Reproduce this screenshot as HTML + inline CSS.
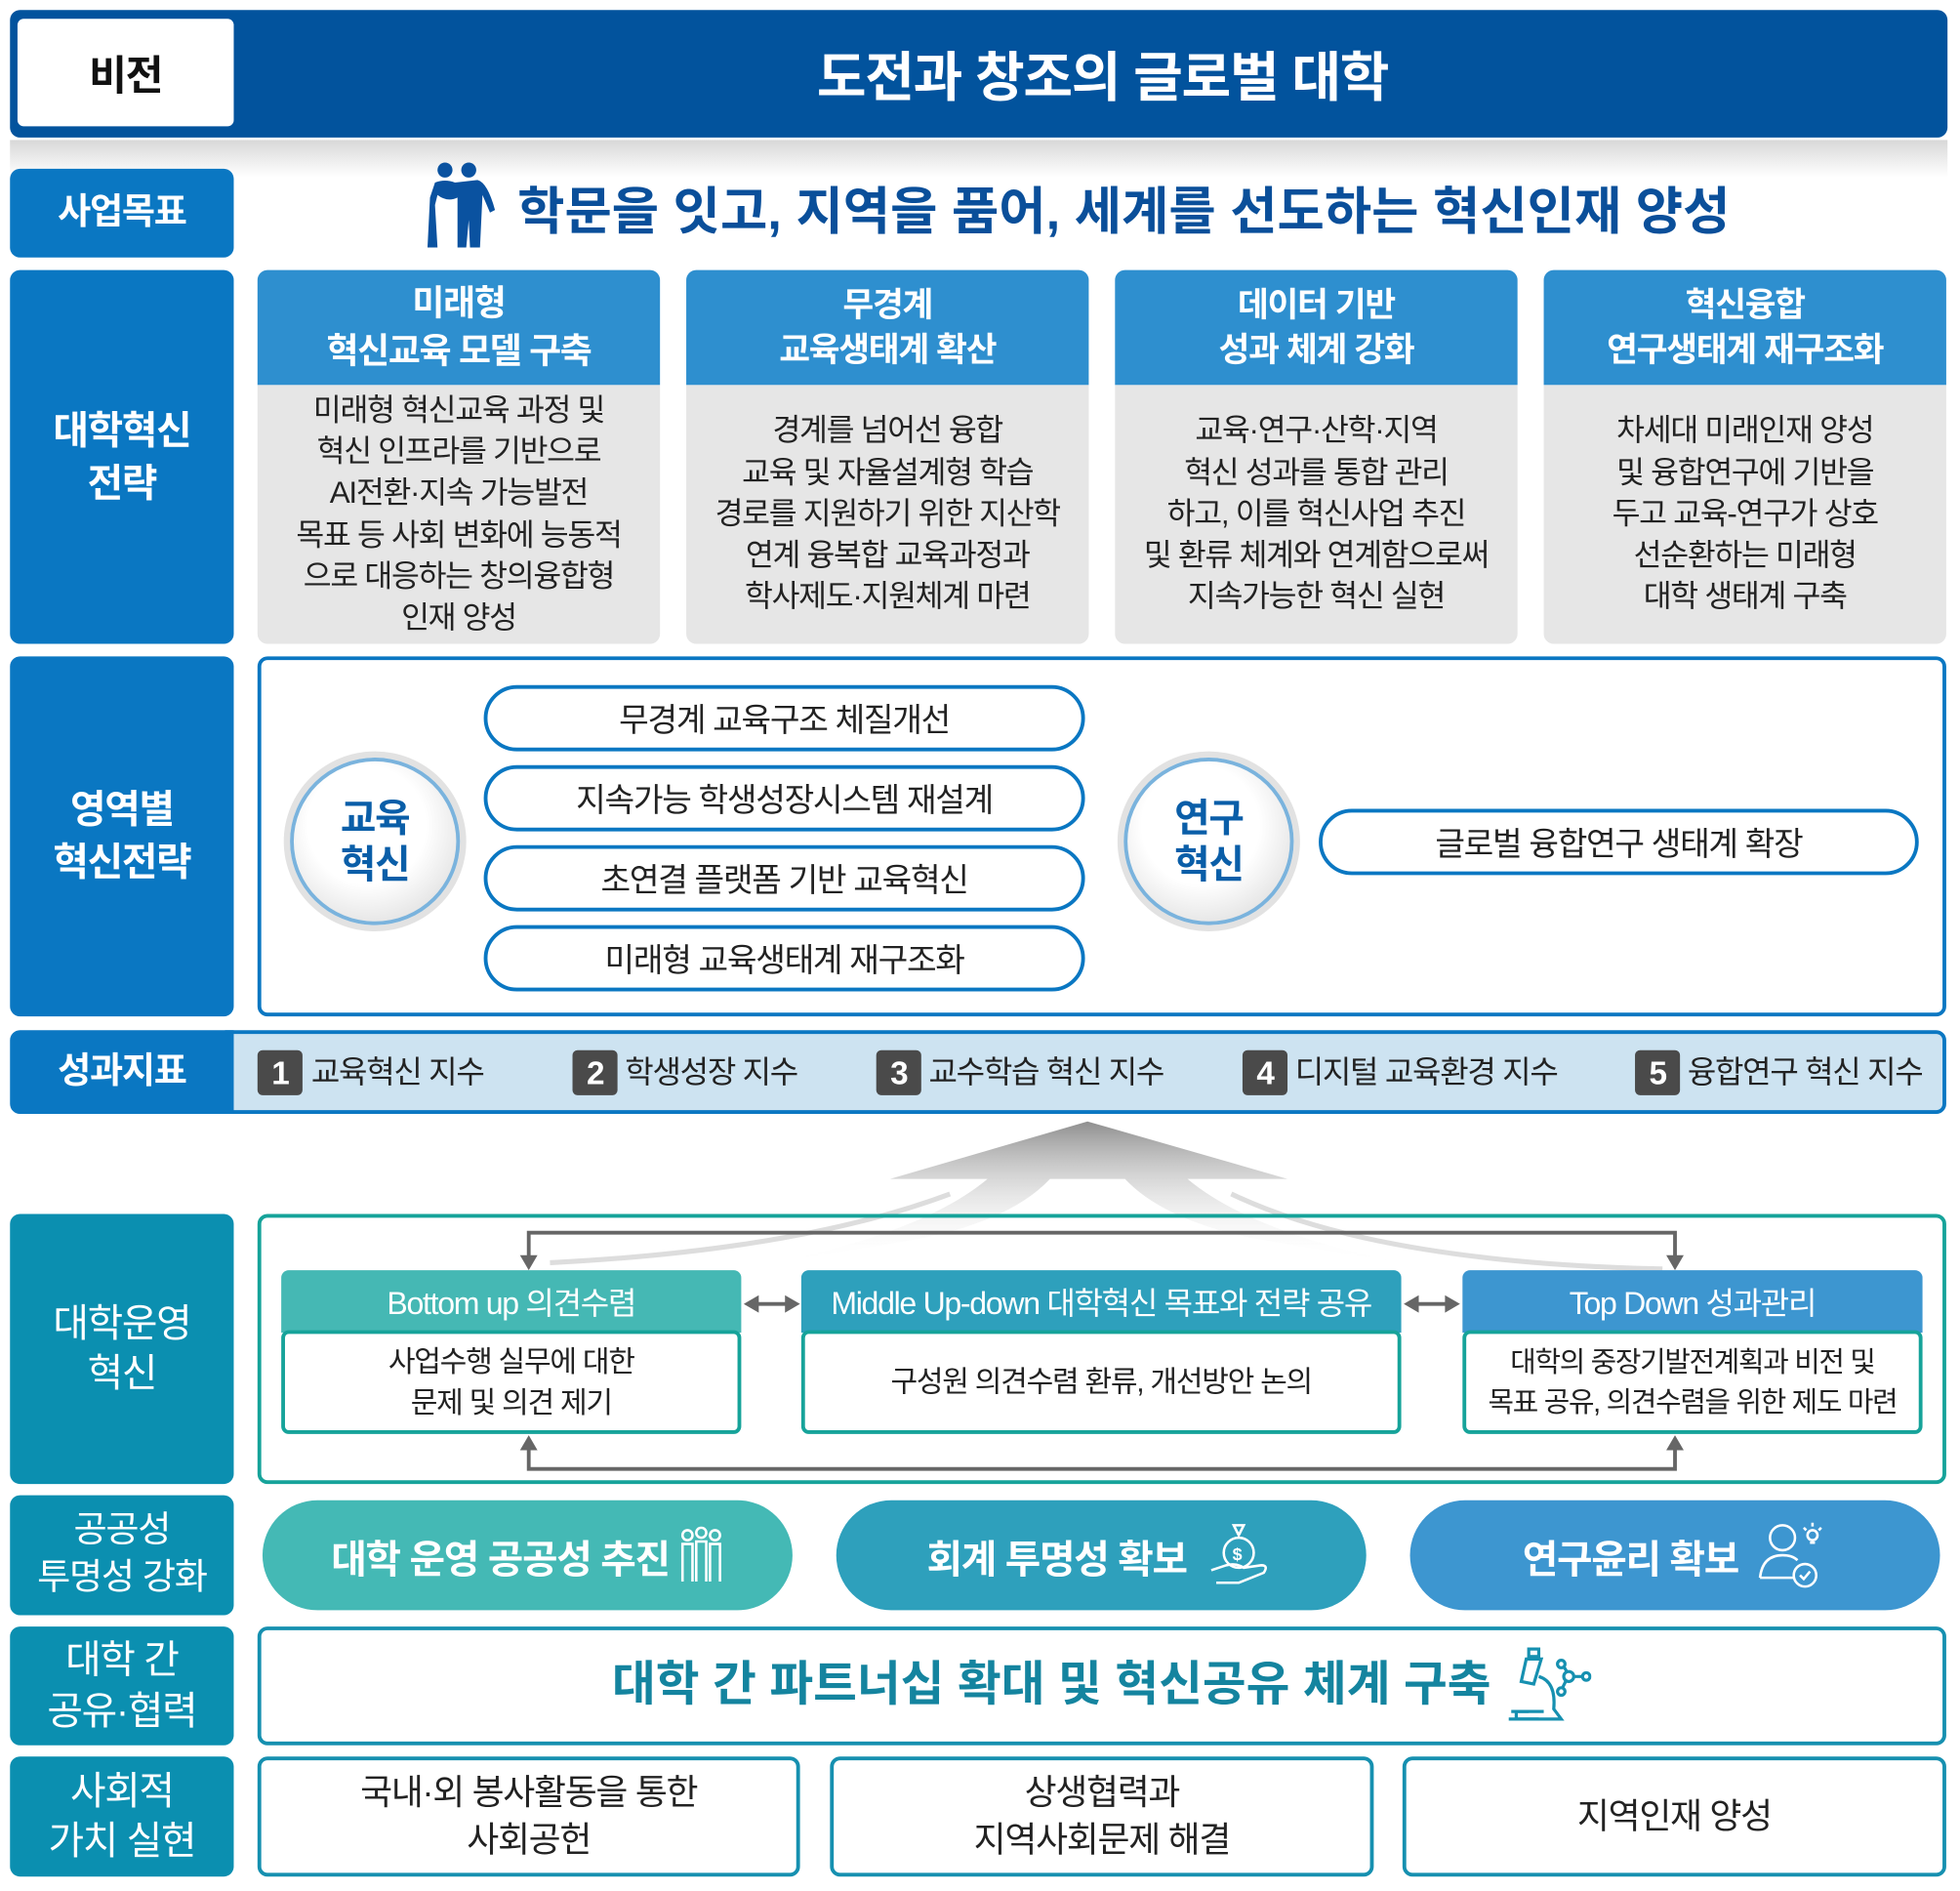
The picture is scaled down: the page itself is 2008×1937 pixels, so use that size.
<!DOCTYPE html>
<html><head><meta charset="utf-8"><style>
html,body{margin:0;padding:0;width:2008px;height:1937px;overflow:hidden;background:#fff}
#s{position:absolute;left:0;top:0;width:1568px;height:1512px;transform:scale(1.28061);transform-origin:0 0;font-family:"Liberation Sans","Noto Sans CJK KR",sans-serif;letter-spacing:-1px}
.a{position:absolute;box-sizing:border-box}
.c{display:flex;align-items:center;justify-content:center;text-align:center}
.lb{background:#0a77c2;color:#fff;font-weight:bold;font-size:29px;border-radius:8px;line-height:1.35}
.lt{background:#0b8fb0;color:#fff;font-size:31px;border-radius:8px;line-height:1.3}
.ch{background:#2e8fcf;color:#fff;font-weight:bold;font-size:27px;line-height:1.35;border-radius:8px 8px 0 0}
.cb{background:#e6e6e6;color:#222;font-size:24.5px;line-height:1.36;border-radius:0 0 8px 8px}
.pill{border:3px solid #0a77c2;border-radius:27px;background:#fff;font-size:26px;color:#222}
.circ{border-radius:50%;background:radial-gradient(circle at 45% 40%,#fff 45%,#e6e6e6 75%,#bbb 100%);border:3px solid #7ab3dd;box-shadow:0 0 0 5px #e2e2e2;color:#0a5ea8;font-weight:bold;font-size:31px;line-height:1.2}
.kb{background:#4a4a4a;color:#fff;font-weight:bold;font-size:26px;width:36px;height:36px;border-radius:4px;top:840px}
.kt{font-size:25px;color:#222;top:838px}
.hd{color:#fff;font-size:25px;height:50px;border-radius:6px 6px 0 0}
.bd{background:#fff;border:3px solid #16a39a;border-radius:6px;font-size:23.5px;color:#222;line-height:1.4}
.bp{color:#fff;font-weight:bold;font-size:31px;border-radius:44px;height:88px;top:1200px}
.bx{border:3px solid #1690b0;border-radius:8px;font-size:28px;color:#222;line-height:1.35;background:#fff}
</style></head><body><div id="s">
<div class="a" style="left:8px;top:8px;width:1550px;height:102px;background:#02539d;border-radius:8px"></div>
<div class="a c" style="left:14px;top:15px;width:173px;height:86px;background:#fff;border-radius:5px;font-size:33px;font-weight:bold;color:#111">비전</div>
<div class="a c" style="left:187px;top:8px;width:1390px;height:102px;color:#fff;font-size:43px;font-weight:bold">도전과 창조의 글로벌 대학</div>
<div class="a" style="left:8px;top:112px;width:1550px;height:30px;background:linear-gradient(#d8d8d8,#fff)"></div>
<div class="a c lb" style="left:8px;top:135px;width:179px;height:71px">사업목표</div>
<svg class="a" style="left:342px;top:128px" width="62" height="72" viewBox="0 0 62 72"><g fill="#0a52a0"><circle cx="14" cy="8" r="6"/><circle cx="33" cy="8" r="6"/><path d="M6 18 Q14 15 22 18 L40 16 Q48 18 54 40 L50 42 L44 28 L42 70 L34 70 L33 48 L31 70 L24 70 L24 30 Q16 34 8 28 L6 36 L8 70 L0 70 L2 30 Z"/></g></svg>
<div class="a" style="left:414px;top:135px;font-size:41px;font-weight:bold;color:#0a4f9a;white-space:nowrap;letter-spacing:0">학문을 잇고, 지역을 품어, 세계를 선도하는 혁신인재 양성</div>
<div class="a c lb" style="left:8px;top:216px;width:179px;height:299px;font-size:31px">대학혁신<br>전략</div>
<div class="a c ch" style="left:206px;top:216px;width:322px;height:92px;font-size:28px">미래형<br>혁신교육 모델 구축</div>
<div class="a c cb" style="left:206px;top:308px;width:322px;height:207px">미래형 혁신교육 과정 및<br>혁신 인프라를 기반으로<br>AI전환·지속 가능발전<br>목표 등 사회 변화에 능동적<br>으로 대응하는 창의융합형<br>인재 양성</div>
<div class="a c ch" style="left:549px;top:216px;width:322px;height:92px">무경계<br>교육생태계 확산</div>
<div class="a c cb" style="left:549px;top:308px;width:322px;height:207px">경계를 넘어선 융합<br>교육 및 자율설계형 학습<br>경로를 지원하기 위한 지산학<br>연계 융복합 교육과정과<br>학사제도·지원체계 마련</div>
<div class="a c ch" style="left:892px;top:216px;width:322px;height:92px">데이터 기반<br>성과 체계 강화</div>
<div class="a c cb" style="left:892px;top:308px;width:322px;height:207px">교육·연구·산학·지역<br>혁신 성과를 통합 관리<br>하고, 이를 혁신사업 추진<br>및 환류 체계와 연계함으로써<br>지속가능한 혁신 실현</div>
<div class="a c ch" style="left:1235px;top:216px;width:322px;height:92px">혁신융합<br>연구생태계 재구조화</div>
<div class="a c cb" style="left:1235px;top:308px;width:322px;height:207px">차세대 미래인재 양성<br>및 융합연구에 기반을<br>두고 교육-연구가 상호<br>선순환하는 미래형<br>대학 생태계 구축</div>
<div class="a c lb" style="left:8px;top:525px;width:179px;height:288px;font-size:31px">영역별<br>혁신전략</div>
<div class="a" style="left:206px;top:525px;width:1351px;height:288px;border:3px solid #0a77c2;border-radius:8px"></div>
<div class="a c circ" style="left:232px;top:606px;width:136px;height:134px">교육<br>혁신</div>
<div class="a c pill" style="left:387px;top:548px;width:481px;height:53px">무경계 교육구조 체질개선</div>
<div class="a c pill" style="left:387px;top:612px;width:481px;height:53px">지속가능 학생성장시스템 재설계</div>
<div class="a c pill" style="left:387px;top:676px;width:481px;height:53px">초연결 플랫폼 기반 교육혁신</div>
<div class="a c pill" style="left:387px;top:740px;width:481px;height:53px">미래형 교육생태계 재구조화</div>
<div class="a c circ" style="left:899px;top:606px;width:136px;height:134px">연구<br>혁신</div>
<div class="a c pill" style="left:1055px;top:647px;width:480px;height:53px">글로벌 융합연구 생태계 확장</div>
<div class="a" style="left:180px;top:824px;width:1377px;height:67px;background:#cde3f1;border:3px solid #0a77c2;border-radius:0 8px 8px 0"></div>
<div class="a c lb" style="left:8px;top:824px;width:179px;height:67px;border-radius:8px 0 0 8px">성과지표</div>
<div class="a c kb" style="left:206px">1</div><div class="a kt" style="left:249px">교육혁신 지수</div>
<div class="a c kb" style="left:458px">2</div><div class="a kt" style="left:500px">학생성장 지수</div>
<div class="a c kb" style="left:701px">3</div><div class="a kt" style="left:743px">교수학습 혁신 지수</div>
<div class="a c kb" style="left:994px">4</div><div class="a kt" style="left:1036px">디지털 교육환경 지수</div>
<div class="a c kb" style="left:1308px">5</div><div class="a kt" style="left:1350px">융합연구 혁신 지수</div>
<svg class="a" style="left:0;top:890px" width="1568" height="140" viewBox="0 890 1568 140">
<defs><linearGradient id="g" x1="0" y1="0" x2="0" y2="1"><stop offset="0" stop-color="#8f8f8f"/><stop offset="1" stop-color="#fff" stop-opacity="0"/></linearGradient></defs>
<path d="M870 897 L1030 943 L950 943 Q1000 985 1120 1010 L1000 990 Q930 975 900 943 L840 943 Q810 975 740 990 L620 1010 Q740 985 790 943 L712 943 Z" fill="url(#g)"/>
<path d="M760 955 Q640 1000 440 1010" stroke="#ddd" stroke-width="4" fill="none"/><path d="M985 955 Q1100 1010 1330 1015" stroke="#ddd" stroke-width="4" fill="none"/>
</svg>
<div class="a c lt" style="left:8px;top:971px;width:179px;height:216px">대학운영<br>혁신</div>
<div class="a" style="left:206px;top:971px;width:1351px;height:216px;border:3px solid #16a39a;border-radius:8px"></div>
<svg class="a" style="left:0;top:960px" width="1568" height="240" viewBox="0 960 1568 240"><g stroke="#666" stroke-width="3" fill="none"><path d="M423 1006 V986 H1340 V1006"/><path d="M423 1157 V1175 H1340 V1157"/><path d="M604 1043 H631"/><path d="M1132 1043 H1159"/></g><g fill="#666"><path d="M416 1004 L430 1004 L423 1016Z"/><path d="M1333 1004 L1347 1004 L1340 1016Z"/><path d="M416 1160 L430 1160 L423 1148Z"/><path d="M1333 1160 L1347 1160 L1340 1148Z"/><path d="M595 1043 L607 1036 L607 1050Z"/><path d="M640 1043 L628 1036 L628 1050Z"/><path d="M1123 1043 L1135 1036 L1135 1050Z"/><path d="M1168 1043 L1156 1036 L1156 1050Z"/></g></svg>
<div class="a c hd" style="left:225px;top:1016px;width:368px;background:#45b8b4">Bottom up 의견수렴</div>
<div class="a c bd" style="left:225px;top:1064px;width:368px;height:83px">사업수행 실무에 대한<br>문제 및 의견 제기</div>
<div class="a c hd" style="left:641px;top:1016px;width:480px;background:#2ea0bc">Middle Up-down 대학혁신 목표와 전략 공유</div>
<div class="a c bd" style="left:641px;top:1064px;width:480px;height:83px">구성원 의견수렴 환류, 개선방안 논의</div>
<div class="a c hd" style="left:1170px;top:1016px;width:368px;background:#3d96d0">Top Down 성과관리</div>
<div class="a c bd" style="left:1170px;top:1064px;width:368px;height:83px;font-size:22.5px">대학의 중장기발전계획과 비전 및<br>목표 공유, 의견수렴을 위한 제도 마련</div>
<div class="a c lt" style="left:8px;top:1196px;width:179px;height:96px;font-size:29px;line-height:1.3">공공성<br>투명성 강화</div>
<div class="a c bp" style="left:210px;width:424px;background:#44b9b5">대학 운영 공공성 추진&nbsp;<svg width="36" height="46" viewBox="0 0 36 46" fill="none" stroke="#fff" stroke-width="2"><circle cx="7" cy="7" r="4"/><circle cx="18" cy="5" r="4"/><circle cx="29" cy="7" r="4"/><path d="M3 44 V14 H11 V44 M14 44 V12 H22 V44 M25 44 V14 H33 V44"/></svg></div>
<div class="a c bp" style="left:669px;width:424px;background:#2ea0bc">회계 투명성 확보&nbsp;&nbsp;<svg width="56" height="56" viewBox="0 0 56 56" fill="none" stroke="#fff" stroke-width="2"><path d="M22 4 L30 4 L26 12Z"/><circle cx="26" cy="26" r="12"/><text x="21" y="32" font-size="14" fill="#fff" stroke="none">$</text><path d="M4 40 L16 36 Q24 34 30 38 L44 36 Q50 36 46 42 L26 50 L8 50"/></svg></div>
<div class="a c bp" style="left:1128px;width:424px;background:#3d96d0">연구윤리 확보&nbsp;&nbsp;<svg width="56" height="56" viewBox="0 0 56 56" fill="none" stroke="#fff" stroke-width="2"><circle cx="20" cy="14" r="10"/><path d="M2 46 Q4 28 20 28 Q28 28 32 32 M2 46 H30"/><circle cx="38" cy="44" r="9"/><path d="M34 44 L37 47 L42 41"/><circle cx="44" cy="12" r="4"/><path d="M42 18 H46 M44 2 V5 M37 6 L39 8 M51 6 L49 8"/></svg></div>
<div class="a c lt" style="left:8px;top:1301px;width:179px;height:95px">대학 간<br>공유·협력</div>
<div class="a c bx" style="left:206px;top:1301px;width:1351px;height:95px;color:#14849f;font-weight:bold;font-size:38px;letter-spacing:0">대학 간 파트너십 확대 및 혁신공유 체계 구축&nbsp;<svg width="70" height="64" viewBox="0 0 70 64" fill="none" stroke="#1690b0" stroke-width="2.5"><rect x="20" y="2" width="8" height="6"/><path d="M18 10 L30 10 L24 30 L14 28Z M28 24 Q42 28 40 50 L46 58 H10 V52 H32"/><path d="M4 58 H28 M6 52 H20"/><circle cx="46" cy="14" r="3"/><circle cx="52" cy="24" r="4"/><circle cx="66" cy="24" r="3"/><circle cx="46" cy="36" r="3"/><path d="M48 16 L51 21 M56 24 H63 M50 27 L47 33"/></svg></div>
<div class="a c lt" style="left:8px;top:1405px;width:179px;height:96px">사회적<br>가치 실현</div>
<div class="a c bx" style="left:206px;top:1405px;width:434px;height:96px">국내·외 봉사활동을 통한<br>사회공헌</div>
<div class="a c bx" style="left:664px;top:1405px;width:435px;height:96px">상생협력과<br>지역사회문제 해결</div>
<div class="a c bx" style="left:1122px;top:1405px;width:435px;height:96px">지역인재 양성</div>
</div></body></html>
